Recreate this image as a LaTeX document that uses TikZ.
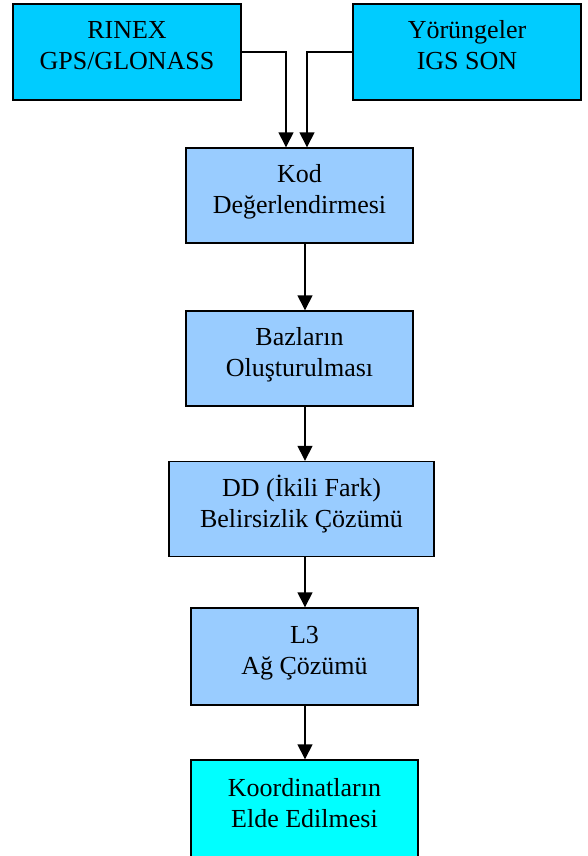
\documentclass[tikz,border=0pt]{standalone}
\usepackage{fontspec}
\setmainfont{Liberation Serif}
\usetikzlibrary{arrows.meta, positioning, calc}
\definecolor{InBg}{HTML}{00CCFF}
\definecolor{StepBg}{HTML}{99CCFF}
\definecolor{OutBg}{HTML}{00FFFF}

\begin{document}
\begin{tikzpicture}[x=1pt, y=-1pt,
    inbox/.style={rectangle, draw=black, line width=1.4pt, fill=InBg, minimum height=96pt, minimum width=228pt, align=center, text height=49pt, text depth=13pt, font=\fontsize{26}{31}\selectfont},
    stepbox/.style={rectangle, draw=black, line width=1.4pt, fill=StepBg, minimum height=95pt, minimum width=227pt, align=center, text height=49pt, text depth=13pt, font=\fontsize{26}{31}\selectfont},
    outbox/.style={rectangle, draw=black, line width=1.4pt, fill=OutBg, minimum height=98pt, minimum width=227pt, align=center, text height=49pt, text depth=13pt, font=\fontsize{26}{31}\selectfont},
    arrow/.style={-{Triangle[width=15pt,length=15pt]}, line width=1.4pt}
  ]
  \useasboundingbox (0,0) rectangle (588,856);

  % Input data
  \node[inbox] (rinex) at (127,52) {RINEX\\GPS/GLONASS};
  \node[inbox] (orbit) at (467,52) {Yörüngeler\\IGS SON};

  % Processing steps
  \node[stepbox] (kod) at (299.5,195.5) {Kod\\Değerlendirmesi};
  \node[stepbox] (baz) at (299.5,358.5) {Bazların\\Oluşturulması};
  \node[stepbox, minimum width=265pt] (dd) at (301.5,509) {DD (İkili Fark)\\Belirsizlik Çözümü};
  \node[stepbox, minimum height=97pt] (ag) at (304.5,656.5) {L3\\Ağ Çözümü};

  % Result
  \node[outbox] (koord) at (304.5,809) {Koordinatların\\Elde Edilmesi};

  % Connections
  \draw[arrow] (rinex.east) -| ($(kod.north)+(-13.5,0)$);
  \draw[arrow] (orbit.west) -| ($(kod.north)+(7.5,0)$);
  \draw[arrow] (kod.south -| 305,0) -- (baz.north -| 305,0);
  \draw[arrow] (baz.south -| 305,0) -- (dd.north -| 305,0);
  \draw[arrow] (dd.south -| 305,0) -- (ag.north -| 305,0);
  \draw[arrow] (ag.south -| 305,0) -- (koord.north -| 305,0);
\end{tikzpicture}
\end{document}
